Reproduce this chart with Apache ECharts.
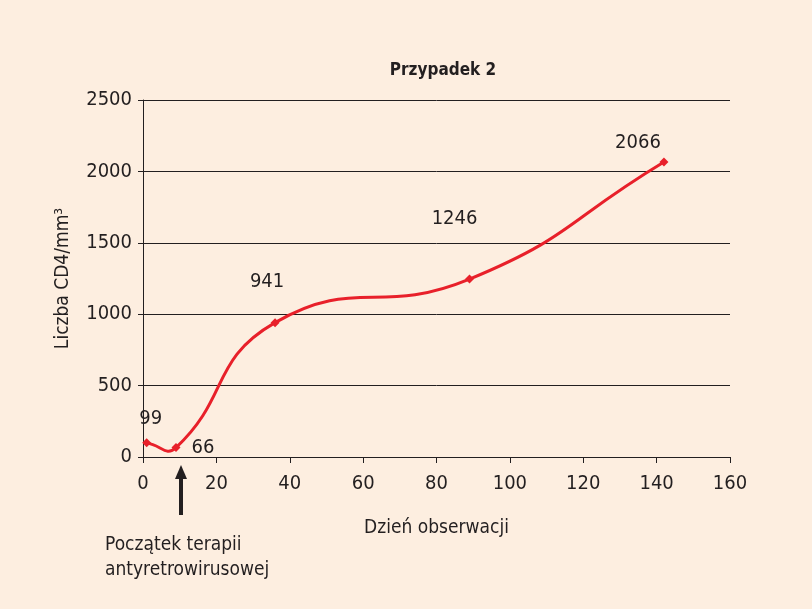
<!DOCTYPE html>
<html>
<head>
<meta charset="utf-8">
<script src="https://cdn.jsdelivr.net/npm/echarts@6/dist/echarts.min.js"></script>
<style>
html,body{margin:0;padding:0;background:#fdeee0;}
#chart{width:812px;height:609px;}
</style>
</head>
<body>
<div id="chart"></div>
<script>
// dane
var days = [1, 9, 36, 89, 142];
var cd4 = [99, 66, 941, 1246, 2066];
// przesunięcia etykiet (tylko wygląd)
var labelOffsets = [[4, -5], [6, 0], [-8, -21], [-15, -41], [-26, 0]];
var labelPos = ['top', 'right', 'top', 'top', 'top'];

var font = "'Liberation Sans Narrow', 'DejaVu Sans Condensed', sans-serif";
var red = '#e8202a';
var ink = '#231f20';
var chart = echarts.init(document.getElementById('chart'));

// wygładzona linia jak w Excelu (bez spłaszczania ekstremów)
function smoothPath(pts, s) {
  function dist(a, b) { return Math.sqrt((a[0] - b[0]) * (a[0] - b[0]) + (a[1] - b[1]) * (a[1] - b[1])); }
  var d = 'M' + pts[0][0] + ' ' + pts[0][1];
  for (var i = 0; i < pts.length - 1; i++) {
    var p0 = pts[i - 1] || pts[i], p1 = pts[i], p2 = pts[i + 1], p3 = pts[i + 2] || pts[i + 1];
    var l01 = dist(p0, p1), l12 = dist(p1, p2), l23 = dist(p2, p3);
    var r1 = l12 / (l01 + l12), r2 = l12 / (l12 + l23);
    var c1 = [p1[0] + (p2[0] - p0[0]) * s * r1, p1[1] + (p2[1] - p0[1]) * s * r1];
    var c2 = [p2[0] - (p3[0] - p1[0]) * s * r2, p2[1] - (p3[1] - p1[1]) * s * r2];
    d += ' C' + c1[0] + ' ' + c1[1] + ' ' + c2[0] + ' ' + c2[1] + ' ' + p2[0] + ' ' + p2[1];
  }
  return d;
}

var points = days.map(function (d, i) {
  return {
    value: [d, cd4[i]],
    label: { position: labelPos[i], offset: labelOffsets[i] }
  };
});

chart.setOption({
  backgroundColor: '#fdeee0',
  animation: false,
  title: {
    text: 'Przypadek 2',
    left: 438,
    textAlign: 'center',
    top: 57,
    textStyle: { fontFamily: font, fontSize: 17, fontWeight: 'bold', color: ink }
  },
  grid: { left: 143, right: 82, top: 100, bottom: 152 },
  xAxis: {
    type: 'value',
    min: 0, max: 160, interval: 20,
    name: 'Dzień obserwacji',
    nameLocation: 'middle',
    nameGap: 62,
    nameTextStyle: { fontFamily: font, fontSize: 19, color: ink },
    axisLine: { lineStyle: { color: ink, width: 1 } },
    axisTick: { show: true, length: 6, lineStyle: { color: ink } },
    axisLabel: { fontFamily: font, fontSize: 20, color: ink, margin: 17,
                 formatter: function (v) { return String(v); } },
    splitLine: { show: false }
  },
  yAxis: {
    type: 'value',
    min: 0, max: 2500, interval: 500,
    name: 'Liczba CD4/mm³',
    nameLocation: 'middle',
    nameGap: 70,
    nameTextStyle: { fontFamily: font, fontSize: 19, color: ink },
    axisLine: { show: true, lineStyle: { color: ink, width: 1 } },
    axisTick: { show: true, length: 5, lineStyle: { color: ink } },
    axisLabel: { fontFamily: font, fontSize: 20, color: ink, margin: 11,
                 formatter: function (v) { return String(v); } },
    splitLine: { lineStyle: { color: ink, width: 1 } }
  },
  series: [{
    type: 'custom',
    data: [[0, 0]],
    silent: true,
    z: 2,
    renderItem: function (params, api) {
      var pts = days.map(function (d, i) { return api.coord([d, cd4[i]]); });
      return {
        type: 'path',
        shape: { pathData: smoothPath(pts, 0.5) },
        style: { fill: 'none', stroke: red, lineWidth: 3 }
      };
    }
  }, {
    type: 'scatter',
    data: points,
    z: 3,
    symbol: 'diamond',
    symbolSize: 9,
    itemStyle: { color: red, opacity: 1 },
    label: {
      show: true,
      fontFamily: font, fontSize: 20, color: ink, opacity: 1,
      formatter: function (p) { return p.value[1]; }
    }
  }],
  graphic: [
    { type: 'line', shape: { x1: 181, y1: 515, x2: 181, y2: 476 },
      style: { stroke: ink, lineWidth: 4 } },
    { type: 'polygon', shape: { points: [[181, 465], [175, 479], [187, 479]] },
      style: { fill: ink } },
    { type: 'text', left: 105, top: 533,
      style: { text: 'Początek terapii\nantyretrowirusowej', fontFamily: font, fontSize: 19,
               lineHeight: 25, fill: ink } }
  ]
});
</script>
</body>
</html>
